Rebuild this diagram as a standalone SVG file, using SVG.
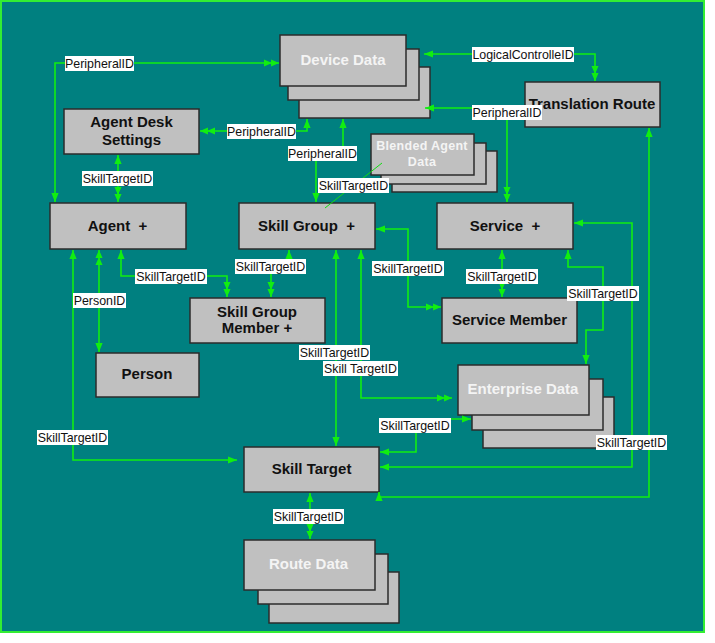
<svg xmlns="http://www.w3.org/2000/svg" width="715" height="643" viewBox="0 0 715 643">
<style>
.box{fill:#c0c0c0;stroke:#2b2b2b;stroke-width:1.5}
.t{font-family:"Liberation Sans",Arial,sans-serif;font-size:15px;font-weight:bold;fill:#111;text-anchor:middle;white-space:pre}
.tw{font-family:"Liberation Sans",Arial,sans-serif;font-size:15px;font-weight:bold;fill:#f4f4f4;text-anchor:middle}
.tb{font-family:"Liberation Sans",Arial,sans-serif;font-size:12.5px;font-weight:bold;fill:#f4f4f4;text-anchor:middle}
.c{fill:none;stroke:#11ee11;stroke-width:1.6}
.thin{fill:none;stroke:#11dd11;stroke-width:1}
.lb{fill:#ffffff}
.lt{font-family:"Liberation Sans",Arial,sans-serif;font-size:12.4px;fill:#111;text-anchor:middle}
</style>
<defs>
<marker id="a1" viewBox="0 0 10 10" refX="10" refY="5" markerWidth="9" markerHeight="9" markerUnits="userSpaceOnUse" orient="auto-start-reverse"><path d="M0,1 L10,5 L0,9 z" fill="#11ee11"/></marker>
<marker id="a2" viewBox="0 0 17 10" refX="17" refY="5" markerWidth="15" markerHeight="9" markerUnits="userSpaceOnUse" orient="auto-start-reverse"><path d="M0,1 L9,5 L0,9 z M8,1 L17,5 L8,9 z" fill="#11ee11"/></marker>
</defs>
<rect x="0" y="0" width="715" height="643" fill="#ffffff"/>
<rect x="1" y="1" width="703" height="631" fill="#008080" stroke="#33ee33" stroke-width="2"/>

<g id="device-data">
<rect class="box" x="299" y="67" width="131" height="51"/>
<rect class="box" x="288" y="49" width="131" height="51"/>
<rect class="box" x="280" y="35" width="126" height="51"/>
<text class="tw" x="343" y="65">Device Data</text>
</g>
<g id="translation-route">
<rect class="box" x="525" y="82" width="135" height="45"/>
<text class="t" x="592" y="109">Translation Route</text>
</g>
<g id="agent-desk-settings">
<rect class="box" x="64" y="109" width="135" height="45"/>
<text class="t" x="131.5" y="127">Agent Desk</text>
<text class="t" x="131.5" y="145">Settings</text>
</g>
<g id="blended-agent-data">
<rect class="box" x="392" y="151" width="105" height="41"/>
<rect class="box" x="381" y="143" width="105" height="41"/>
<rect class="box" x="371" y="134" width="103" height="41"/>
<text class="tb" x="422" y="150" letter-spacing="0.3">Blended Agent</text>
<text class="tb" x="422" y="166" letter-spacing="0.3">Data</text>
</g>
<g id="agent">
<rect class="box" x="50" y="203" width="136" height="46"/>
<text class="t" x="117.5" y="231">Agent  +</text>
</g>
<g id="skill-group">
<rect class="box" x="239" y="203" width="136" height="46"/>
<text class="t" x="306.5" y="231">Skill Group  +</text>
</g>
<g id="service">
<rect class="box" x="437" y="203" width="136" height="46"/>
<text class="t" x="505" y="231">Service  +</text>
</g>
<g id="skill-group-member">
<rect class="box" x="190" y="298" width="135" height="45"/>
<text class="t" x="257" y="317">Skill Group</text>
<text class="t" x="257" y="333">Member +</text>
</g>
<g id="service-member">
<rect class="box" x="442" y="298" width="135" height="45"/>
<text class="t" x="509.5" y="325">Service Member</text>
</g>
<g id="person">
<rect class="box" x="96" y="353" width="103" height="44"/>
<text class="t" x="147" y="379">Person</text>
</g>
<g id="enterprise-data">
<rect class="box" x="483" y="397" width="131" height="51"/>
<rect class="box" x="472" y="379" width="131" height="51"/>
<rect class="box" x="458" y="365" width="131" height="50"/>
<text class="tw" x="523" y="394">Enterprise Data</text>
</g>
<g id="skill-target">
<rect class="box" x="244" y="447" width="135" height="45"/>
<text class="t" x="311.5" y="474">Skill Target</text>
</g>
<g id="route-data">
<rect class="box" x="269" y="572" width="130" height="51"/>
<rect class="box" x="258" y="554" width="130" height="50"/>
<rect class="box" x="244" y="540" width="131" height="50"/>
<text class="tw" x="308.5" y="569">Route Data</text>
</g>

<g id="connectors">
<path class="c" d="M55 202 V63 H279" marker-start="url(#a1)" marker-end="url(#a2)"/>
<path class="c" d="M307 119 V131 H200" marker-start="url(#a1)" marker-end="url(#a2)"/>
<path class="c" d="M343 119 V153 H316 V202" marker-start="url(#a1)" marker-end="url(#a1)"/>
<path class="c" d="M424 54 H595 V81" marker-start="url(#a1)" marker-end="url(#a2)"/>
<path class="c" d="M425 108 H507 V202" marker-start="url(#a1)" marker-end="url(#a2)"/>
<path class="c" d="M649 128 V497 H379 V492" marker-start="url(#a1)" marker-end="url(#a1)"/>
<path class="c" d="M574 223 H632 V467 H380" marker-start="url(#a1)" marker-end="url(#a1)"/>
<path class="c" d="M568 250 V267 H603 V330 H586 V364" marker-start="url(#a1)" marker-end="url(#a1)"/>
<path class="c" d="M376 229 H408 V307 H441" marker-start="url(#a1)" marker-end="url(#a2)"/>
<path class="c" d="M502 250 V297" marker-start="url(#a1)" marker-end="url(#a2)"/>
<path class="c" d="M118 155 V202" marker-start="url(#a1)" marker-end="url(#a2)"/>
<path class="c" d="M121 250 V276 H227 V297" marker-start="url(#a1)" marker-end="url(#a2)"/>
<path class="c" d="M99 250 V352" marker-start="url(#a2)" marker-end="url(#a1)"/>
<path class="c" d="M73 250 V460 H237" marker-start="url(#a1)" marker-end="url(#a1)"/>
<path class="c" d="M289 250 V266 H271 V297" marker-start="url(#a1)" marker-end="url(#a2)"/>
<path class="c" d="M336 250 V446" marker-start="url(#a1)" marker-end="url(#a1)"/>
<path class="c" d="M361 250 V398 H452" marker-start="url(#a1)" marker-end="url(#a2)"/>
<path class="c" d="M380 452 H416 V419 H471" marker-start="url(#a1)" marker-end="url(#a1)"/>
<path class="c" d="M310 493 V539" marker-start="url(#a1)" marker-end="url(#a2)"/>
<path class="thin" d="M382 163 L325 208"/>

<g id="labels">
<rect class="lb" x="65" y="56" width="69" height="15"/><text class="lt" x="99.5" y="67.5">PeripheralID</text>
<rect class="lb" x="227" y="124" width="69" height="15"/><text class="lt" x="261.5" y="135.5">PeripheralID</text>
<rect class="lb" x="288" y="146" width="69" height="15"/><text class="lt" x="322.5" y="157.5">PeripheralID</text>
<rect class="lb" x="472" y="47" width="102" height="15"/><text class="lt" x="523" y="58.5">LogicalControlleID</text>
<rect class="lb" x="472" y="105" width="70" height="15"/><text class="lt" x="507" y="116.5">PeripheralID</text>
<rect class="lb" x="82" y="171" width="71" height="15"/><text class="lt" x="117.5" y="182.5">SkillTargetID</text>
<rect class="lb" x="318" y="178" width="71" height="15"/><text class="lt" x="353.5" y="189.5">SkillTargetID</text>
<rect class="lb" x="235" y="259" width="71" height="15"/><text class="lt" x="270.5" y="270.5">SkillTargetID</text>
<rect class="lb" x="135" y="269" width="72" height="15"/><text class="lt" x="171" y="280.5">SkillTargetID</text>
<rect class="lb" x="73" y="293" width="53" height="15"/><text class="lt" x="99.5" y="304.5">PersonID</text>
<rect class="lb" x="372" y="261" width="72" height="15"/><text class="lt" x="408" y="272.5">SkillTargetID</text>
<rect class="lb" x="466" y="269" width="72" height="15"/><text class="lt" x="502" y="280.5">SkillTargetID</text>
<rect class="lb" x="567" y="286" width="72" height="15"/><text class="lt" x="603" y="297.5">SkillTargetID</text>
<rect class="lb" x="299" y="345" width="71" height="15"/><text class="lt" x="334.5" y="356.5">SkillTargetID</text>
<rect class="lb" x="323" y="361" width="75" height="15"/><text class="lt" x="360.5" y="372.5">Skill TargetID</text>
<rect class="lb" x="379" y="418" width="72" height="15"/><text class="lt" x="415" y="429.5">SkillTargetID</text>
<rect class="lb" x="37" y="430" width="71" height="15"/><text class="lt" x="72.5" y="441.5">SkillTargetID</text>
<rect class="lb" x="596" y="435" width="71" height="15"/><text class="lt" x="631.5" y="446.5">SkillTargetID</text>
<rect class="lb" x="273" y="509" width="71" height="15"/><text class="lt" x="308.5" y="520.5">SkillTargetID</text>
</g>
</g>
</svg>
